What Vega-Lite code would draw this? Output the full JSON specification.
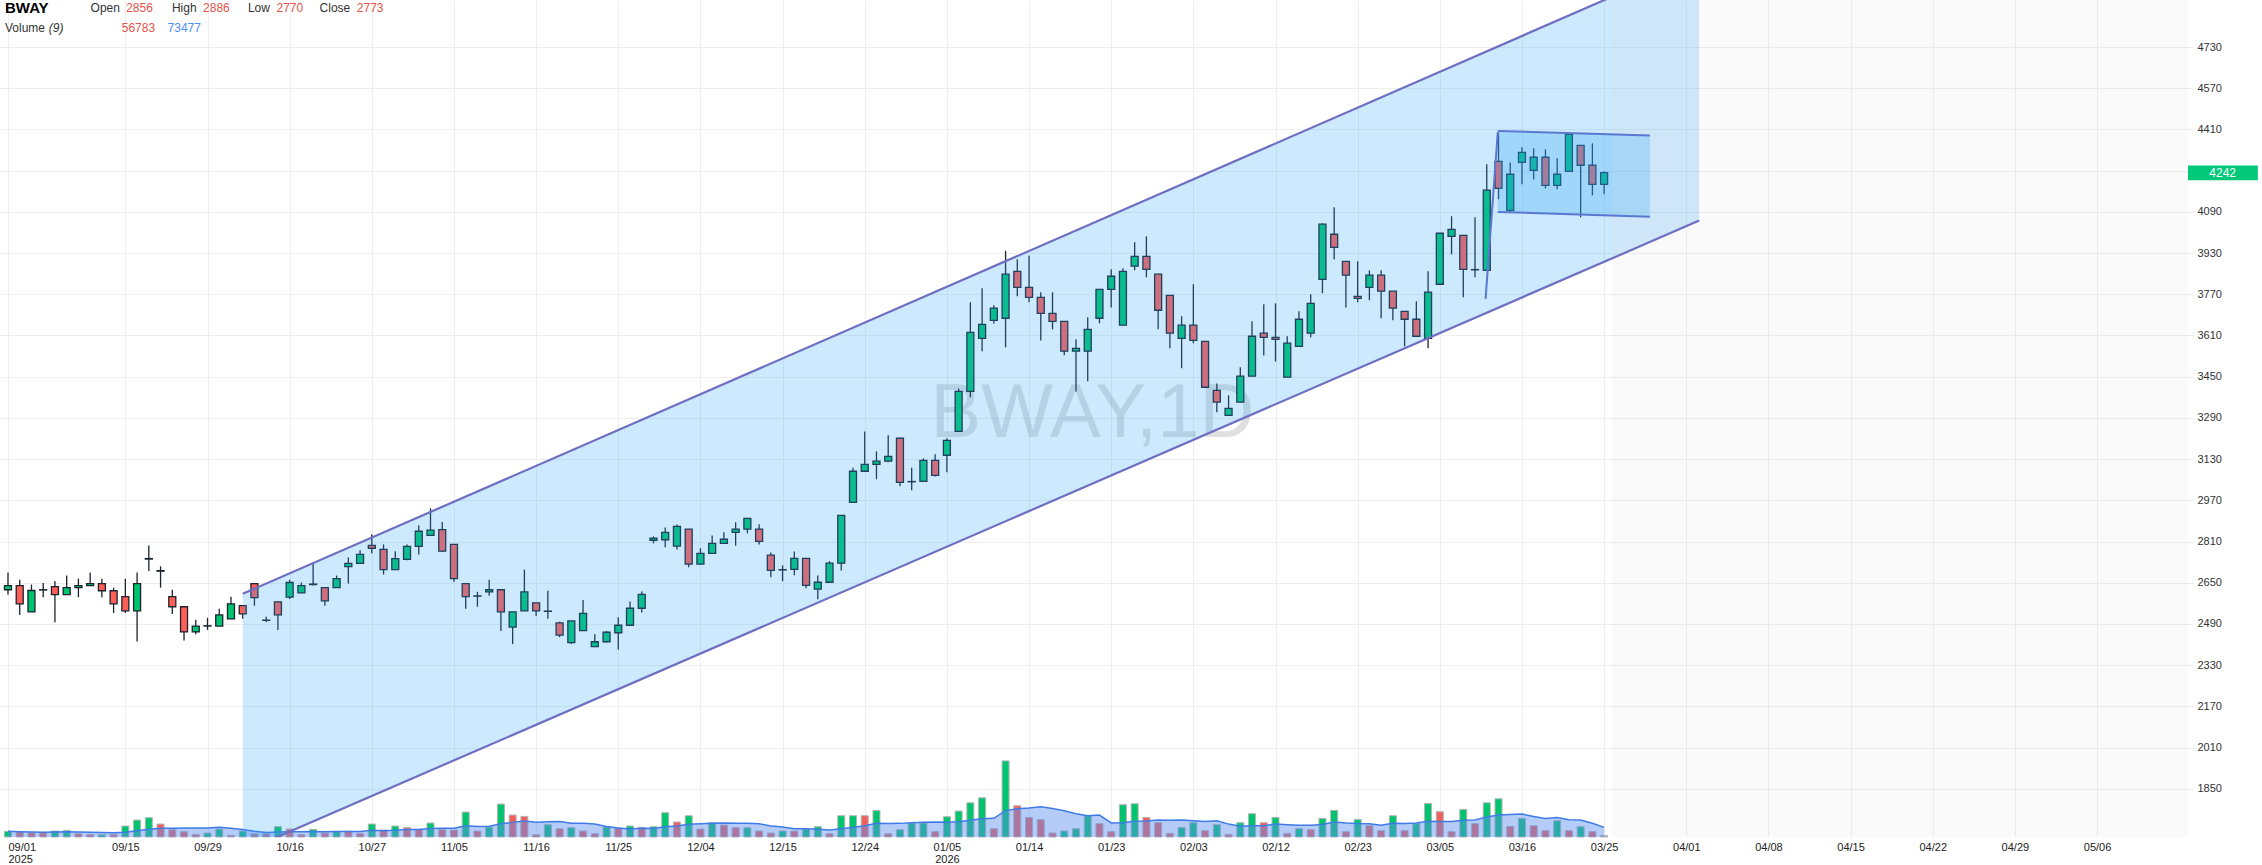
{
"$schema":"https://vega.github.io/schema/vega-lite/v6.json",
"width":2193,"height":837,
"autosize":{"type":"none"},
"padding":{"left":0,"top":0,"right":69,"bottom":28},
"background":"white",
"config":{"view":{"stroke":null}},
"datasets":{
"bars":[
{"i":0,"o":2623,"h":2690,"l":2604,"c":2639,"v":43877,"vd":"u"},
{"i":1,"o":2639,"h":2662,"l":2525,"c":2568,"v":38715,"vd":"d"},
{"i":2,"o":2537,"h":2643,"l":2537,"c":2620,"v":33553,"vd":"d"},
{"i":3,"o":2622,"h":2649,"l":2594,"c":2623,"v":33553,"vd":"d"},
{"i":4,"o":2635,"h":2657,"l":2497,"c":2604,"v":46458,"vd":"u"},
{"i":5,"o":2604,"h":2678,"l":2604,"c":2631,"v":51620,"vd":"u"},
{"i":6,"o":2631,"h":2666,"l":2594,"c":2639,"v":25810,"vd":"d"},
{"i":7,"o":2639,"h":2690,"l":2639,"c":2647,"v":20648,"vd":"d"},
{"i":8,"o":2647,"h":2666,"l":2594,"c":2619,"v":18067,"vd":"u"},
{"i":9,"o":2619,"h":2631,"l":2533,"c":2568,"v":20648,"vd":"d"},
{"i":10,"o":2596,"h":2666,"l":2533,"c":2541,"v":85173,"vd":"u"},
{"i":11,"o":2541,"h":2690,"l":2422,"c":2647,"v":131631,"vd":"u"},
{"i":12,"o":2744,"h":2795,"l":2696,"c":2742,"v":149698,"vd":"u"},
{"i":13,"o":2697,"h":2714,"l":2631,"c":2695,"v":100659,"vd":"d"},
{"i":14,"o":2596,"h":2623,"l":2529,"c":2557,"v":56782,"vd":"d"},
{"i":15,"o":2557,"h":2557,"l":2426,"c":2459,"v":41296,"vd":"d"},
{"i":16,"o":2459,"h":2506,"l":2450,"c":2482,"v":20648,"vd":"d"},
{"i":17,"o":2482,"h":2514,"l":2467,"c":2483,"v":30972,"vd":"u"},
{"i":18,"o":2482,"h":2549,"l":2482,"c":2525,"v":61944,"vd":"u"},
{"i":19,"o":2510,"h":2596,"l":2510,"c":2568,"v":12905,"vd":"d"},
{"i":20,"o":2561,"h":2561,"l":2510,"c":2529,"v":46458,"vd":"u"},
{"i":21,"o":2647,"h":2647,"l":2561,"c":2592,"v":25810,"vd":"d"},
{"i":22,"o":2505,"h":2518,"l":2498,"c":2504,"v":25810,"vd":"d"},
{"i":23,"o":2576,"h":2576,"l":2467,"c":2525,"v":80011,"vd":"u"},
{"i":24,"o":2594,"h":2662,"l":2587,"c":2651,"v":61944,"vd":"d"},
{"i":25,"o":2611,"h":2651,"l":2611,"c":2639,"v":18067,"vd":"d"},
{"i":26,"o":2645,"h":2729,"l":2639,"c":2643,"v":59363,"vd":"u"},
{"i":27,"o":2631,"h":2631,"l":2561,"c":2580,"v":30972,"vd":"d"},
{"i":28,"o":2631,"h":2678,"l":2631,"c":2666,"v":43877,"vd":"u"},
{"i":29,"o":2713,"h":2748,"l":2647,"c":2725,"v":43877,"vd":"d"},
{"i":30,"o":2725,"h":2776,"l":2725,"c":2760,"v":28391,"vd":"d"},
{"i":31,"o":2795,"h":2838,"l":2764,"c":2784,"v":100659,"vd":"u"},
{"i":32,"o":2780,"h":2799,"l":2682,"c":2701,"v":54201,"vd":"d"},
{"i":33,"o":2701,"h":2772,"l":2701,"c":2744,"v":85173,"vd":"u"},
{"i":34,"o":2741,"h":2799,"l":2737,"c":2791,"v":72268,"vd":"d"},
{"i":35,"o":2791,"h":2873,"l":2760,"c":2850,"v":59363,"vd":"d"},
{"i":36,"o":2834,"h":2939,"l":2834,"c":2854,"v":108402,"vd":"u"},
{"i":37,"o":2856,"h":2886,"l":2770,"c":2773,"v":56783,"vd":"d"},
{"i":38,"o":2799,"h":2799,"l":2654,"c":2666,"v":54201,"vd":"d"},
{"i":39,"o":2647,"h":2647,"l":2549,"c":2596,"v":193575,"vd":"u"},
{"i":40,"o":2599,"h":2615,"l":2557,"c":2598,"v":46458,"vd":"d"},
{"i":41,"o":2615,"h":2662,"l":2600,"c":2623,"v":77430,"vd":"u"},
{"i":42,"o":2623,"h":2623,"l":2463,"c":2537,"v":255519,"vd":"u"},
{"i":43,"o":2478,"h":2537,"l":2412,"c":2537,"v":170346,"vd":"d"},
{"i":44,"o":2541,"h":2701,"l":2541,"c":2615,"v":160022,"vd":"d"},
{"i":45,"o":2572,"h":2572,"l":2521,"c":2541,"v":18067,"vd":"d"},
{"i":46,"o":2540,"h":2619,"l":2510,"c":2539,"v":95497,"vd":"u"},
{"i":47,"o":2494,"h":2499,"l":2439,"c":2447,"v":64525,"vd":"d"},
{"i":48,"o":2418,"h":2502,"l":2412,"c":2502,"v":72268,"vd":"u"},
{"i":49,"o":2464,"h":2583,"l":2464,"c":2531,"v":46458,"vd":"d"},
{"i":50,"o":2402,"h":2450,"l":2402,"c":2421,"v":25810,"vd":"d"},
{"i":51,"o":2421,"h":2463,"l":2418,"c":2458,"v":77430,"vd":"u"},
{"i":52,"o":2456,"h":2516,"l":2390,"c":2485,"v":69687,"vd":"d"},
{"i":53,"o":2485,"h":2577,"l":2485,"c":2551,"v":85173,"vd":"u"},
{"i":54,"o":2551,"h":2616,"l":2535,"c":2605,"v":74849,"vd":"d"},
{"i":55,"o":2815,"h":2830,"l":2803,"c":2823,"v":80011,"vd":"u"},
{"i":56,"o":2817,"h":2865,"l":2788,"c":2846,"v":188413,"vd":"u"},
{"i":57,"o":2792,"h":2876,"l":2779,"c":2869,"v":116145,"vd":"d"},
{"i":58,"o":2858,"h":2858,"l":2710,"c":2722,"v":165184,"vd":"u"},
{"i":59,"o":2722,"h":2784,"l":2722,"c":2764,"v":61944,"vd":"d"},
{"i":60,"o":2764,"h":2834,"l":2764,"c":2803,"v":110983,"vd":"u"},
{"i":61,"o":2803,"h":2846,"l":2803,"c":2819,"v":92916,"vd":"d"},
{"i":62,"o":2846,"h":2885,"l":2794,"c":2858,"v":72268,"vd":"d"},
{"i":63,"o":2858,"h":2900,"l":2842,"c":2900,"v":72268,"vd":"u"},
{"i":64,"o":2858,"h":2877,"l":2799,"c":2811,"v":46458,"vd":"d"},
{"i":65,"o":2757,"h":2768,"l":2671,"c":2698,"v":30972,"vd":"d"},
{"i":66,"o":2701,"h":2717,"l":2656,"c":2700,"v":46458,"vd":"u"},
{"i":67,"o":2702,"h":2771,"l":2679,"c":2745,"v":46458,"vd":"d"},
{"i":68,"o":2745,"h":2745,"l":2629,"c":2640,"v":61944,"vd":"u"},
{"i":69,"o":2625,"h":2678,"l":2586,"c":2652,"v":80011,"vd":"u"},
{"i":70,"o":2652,"h":2734,"l":2652,"c":2726,"v":25810,"vd":"d"},
{"i":71,"o":2726,"h":2912,"l":2698,"c":2912,"v":165184,"vd":"u"},
{"i":72,"o":2962,"h":3097,"l":2962,"c":3083,"v":165184,"vd":"u"},
{"i":73,"o":3083,"h":3237,"l":3083,"c":3110,"v":165184,"vd":"d"},
{"i":74,"o":3110,"h":3160,"l":3052,"c":3122,"v":206480,"vd":"u"},
{"i":75,"o":3122,"h":3223,"l":3118,"c":3141,"v":25810,"vd":"d"},
{"i":76,"o":3211,"h":3211,"l":3025,"c":3040,"v":56782,"vd":"u"},
{"i":77,"o":3043,"h":3097,"l":3009,"c":3042,"v":108402,"vd":"u"},
{"i":78,"o":3044,"h":3133,"l":3044,"c":3125,"v":108402,"vd":"u"},
{"i":79,"o":3125,"h":3149,"l":3063,"c":3067,"v":41296,"vd":"d"},
{"i":80,"o":3145,"h":3211,"l":3079,"c":3203,"v":157441,"vd":"u"},
{"i":81,"o":3238,"h":3404,"l":3238,"c":3393,"v":201318,"vd":"u"},
{"i":82,"o":3393,"h":3739,"l":3370,"c":3622,"v":265843,"vd":"u"},
{"i":83,"o":3599,"h":3793,"l":3549,"c":3653,"v":304558,"vd":"u"},
{"i":84,"o":3669,"h":3727,"l":3657,"c":3716,"v":64525,"vd":"d"},
{"i":85,"o":3677,"h":3939,"l":3564,"c":3848,"v":591049,"vd":"u"},
{"i":86,"o":3859,"h":3906,"l":3762,"c":3797,"v":242614,"vd":"d"},
{"i":87,"o":3797,"h":3920,"l":3739,"c":3758,"v":152279,"vd":"d"},
{"i":88,"o":3758,"h":3778,"l":3591,"c":3696,"v":134212,"vd":"d"},
{"i":89,"o":3696,"h":3778,"l":3634,"c":3665,"v":30972,"vd":"d"},
{"i":90,"o":3665,"h":3665,"l":3533,"c":3549,"v":46458,"vd":"u"},
{"i":91,"o":3549,"h":3595,"l":3393,"c":3560,"v":64525,"vd":"u"},
{"i":92,"o":3549,"h":3681,"l":3432,"c":3634,"v":165184,"vd":"u"},
{"i":93,"o":3677,"h":3789,"l":3657,"c":3789,"v":103240,"vd":"d"},
{"i":94,"o":3789,"h":3867,"l":3719,"c":3840,"v":41296,"vd":"d"},
{"i":95,"o":3650,"h":3871,"l":3650,"c":3859,"v":250357,"vd":"u"},
{"i":96,"o":3879,"h":3972,"l":3863,"c":3917,"v":258100,"vd":"u"},
{"i":97,"o":3917,"h":3995,"l":3836,"c":3867,"v":152279,"vd":"d"},
{"i":98,"o":3848,"h":3848,"l":3634,"c":3708,"v":110983,"vd":"d"},
{"i":99,"o":3766,"h":3766,"l":3560,"c":3619,"v":28391,"vd":"d"},
{"i":100,"o":3599,"h":3685,"l":3483,"c":3650,"v":74849,"vd":"u"},
{"i":101,"o":3650,"h":3809,"l":3580,"c":3591,"v":110983,"vd":"u"},
{"i":102,"o":3587,"h":3587,"l":3409,"c":3409,"v":49039,"vd":"d"},
{"i":103,"o":3397,"h":3424,"l":3312,"c":3351,"v":95497,"vd":"u"},
{"i":104,"o":3300,"h":3378,"l":3300,"c":3327,"v":20648,"vd":"d"},
{"i":105,"o":3351,"h":3487,"l":3351,"c":3452,"v":110983,"vd":"u"},
{"i":106,"o":3452,"h":3665,"l":3452,"c":3607,"v":180670,"vd":"u"},
{"i":107,"o":3619,"h":3731,"l":3532,"c":3603,"v":110983,"vd":"d"},
{"i":108,"o":3603,"h":3735,"l":3509,"c":3595,"v":152279,"vd":"u"},
{"i":109,"o":3448,"h":3607,"l":3448,"c":3580,"v":28391,"vd":"d"},
{"i":110,"o":3568,"h":3704,"l":3568,"c":3673,"v":64525,"vd":"u"},
{"i":111,"o":3619,"h":3770,"l":3603,"c":3735,"v":56782,"vd":"d"},
{"i":112,"o":3828,"h":4046,"l":3774,"c":4042,"v":144536,"vd":"u"},
{"i":113,"o":4003,"h":4108,"l":3905,"c":3952,"v":206480,"vd":"u"},
{"i":114,"o":3898,"h":3898,"l":3719,"c":3844,"v":41296,"vd":"d"},
{"i":115,"o":3762,"h":3898,"l":3739,"c":3754,"v":136793,"vd":"u"},
{"i":116,"o":3797,"h":3863,"l":3747,"c":3844,"v":87754,"vd":"d"},
{"i":117,"o":3844,"h":3863,"l":3677,"c":3782,"v":49039,"vd":"d"},
{"i":118,"o":3782,"h":3782,"l":3669,"c":3716,"v":165184,"vd":"u"},
{"i":119,"o":3704,"h":3704,"l":3568,"c":3673,"v":49039,"vd":"d"},
{"i":120,"o":3673,"h":3743,"l":3607,"c":3607,"v":103240,"vd":"u"},
{"i":121,"o":3599,"h":3859,"l":3560,"c":3778,"v":260681,"vd":"u"},
{"i":122,"o":3809,"h":4007,"l":3809,"c":4007,"v":196156,"vd":"d"},
{"i":123,"o":3995,"h":4073,"l":3925,"c":4022,"v":41296,"vd":"d"},
{"i":124,"o":3999,"h":3999,"l":3758,"c":3867,"v":214223,"vd":"u"},
{"i":125,"o":3866,"h":4069,"l":3836,"c":3865,"v":103240,"vd":"d"},
{"i":126,"o":3863,"h":4275,"l":3863,"c":4174,"v":265843,"vd":"u"},
{"i":127,"o":4286,"h":4395,"l":4139,"c":4181,"v":296815,"vd":"u"},
{"i":128,"o":4096,"h":4282,"l":4088,"c":4236,"v":82592,"vd":"d"},
{"i":129,"o":4282,"h":4341,"l":4197,"c":4321,"v":144536,"vd":"u"},
{"i":130,"o":4251,"h":4337,"l":4216,"c":4302,"v":87754,"vd":"d"},
{"i":131,"o":4302,"h":4333,"l":4181,"c":4193,"v":49039,"vd":"d"},
{"i":132,"o":4193,"h":4298,"l":4178,"c":4236,"v":126469,"vd":"u"},
{"i":133,"o":4247,"h":4391,"l":4247,"c":4391,"v":49039,"vd":"d"},
{"i":134,"o":4348,"h":4348,"l":4069,"c":4271,"v":80011,"vd":"u"},
{"i":135,"o":4271,"h":4356,"l":4154,"c":4197,"v":41296,"vd":"d"},
{"i":136,"o":4197,"h":4247,"l":4158,"c":4242,"v":12905,"vd":"n"}
]},
"resolve":{"scale":{"y":"independent"}},
"layer":[
{"data":{"values":[{"t":"BWAY,1D","i":92.4,"p":3305}]},
"mark":{"type":"text","font":"Liberation Sans","fontSize":76,"color":"#9a9a9a","opacity":0.3,"align":"center","baseline":"middle"},
"encoding":{
"x":{"field":"i","type":"quantitative","title":null,"scale":{"domain":[-0.2545,185.75],"nice":false,"zero":false},
"axis":{"values":[0,10,17,24,31,38,45,52,59,66,73,80,87,94,101,108,115,122,129,136,143,150,157,164,171,178],
"labelExpr":"datum.value == 0 ? ['09/01','2025'] : datum.value == 80 ? ['01/05','2026'] : ['09/01','09/15','09/29','10/16','10/27','11/05','11/16','11/25','12/04','12/15','12/24','01/05','01/14','01/23','02/03','02/12','02/23','03/05','03/16','03/25','04/01','04/08','04/15','04/22','04/29','05/06'][indexof([0,10,17,24,31,38,45,52,59,66,73,80,87,94,101,108,115,122,129,136,143,150,157,164,171,178], datum.value)]",
"labelAlign":{"condition":{"test":"datum.value == 0","value":"left"},"value":"center"},
"grid":true,"gridColor":"#eeeeee","gridWidth":1,"domain":false,"ticks":false,
"labelFont":"Liberation Sans","labelFontSize":11,"labelColor":"#222","labelPadding":4,"labelOverlap":false,"labelLineHeight":12,"labelBaseline":"top","title":null}},
"y":{"field":"p","type":"quantitative","scale":{"domain":[1663,4912.5],"nice":false,"zero":false},
"axis":{"orient":"right","values":[1850,2010,2170,2330,2490,2650,2810,2970,3130,3290,3450,3610,3770,3930,4090,4250,4410,4570,4730],
"format":"d","labelExpr":"datum.value == 4250 ? '' : datum.label","grid":true,"gridColor":"#eeeeee","domain":false,"ticks":false,
"labelPadding":4,"labelFont":"Liberation Sans","labelFontSize":11,"labelColor":"#333","title":null}},
"text":{"field":"t"}}},
{"data":{"name":"bars"},
"mark":{"type":"bar","width":7,"stroke":"#b4b4b4","strokeWidth":1},
"encoding":{
"x":{"field":"i","type":"quantitative","title":null,"scale":{"domain":[-0.2545,185.75],"nice":false,"zero":false}},
"y":{"field":"v","type":"quantitative","scale":{"domain":[0,6500000],"nice":false,"zero":false},"axis":null},
"fill":{"field":"vd","type":"nominal","scale":{"domain":["u","d","n"],"range":["#00c46e","#f0605a","#b0b0b0"]},"legend":null}}},
{"data":{"name":"bars"},
"transform":[{"window":[{"op":"mean","field":"v","as":"vma"}],"frame":[-8,0],"sort":[{"field":"i"}]}],
"mark":{"type":"area","fill":"#5b8def","opacity":0.45},
"encoding":{
"x":{"field":"i","type":"quantitative","title":null,"scale":{"domain":[-0.2545,185.75],"nice":false,"zero":false}},
"y":{"field":"vma","type":"quantitative","scale":{"domain":[0,6500000],"nice":false,"zero":false},"axis":null}}},
{"data":{"name":"bars"},
"transform":[{"window":[{"op":"mean","field":"v","as":"vma"}],"frame":[-8,0],"sort":[{"field":"i"}]}],
"mark":{"type":"line","stroke":"#3f7be6","strokeWidth":1.5},
"encoding":{
"x":{"field":"i","type":"quantitative","title":null,"scale":{"domain":[-0.2545,185.75],"nice":false,"zero":false}},
"y":{"field":"vma","type":"quantitative","scale":{"domain":[0,6500000],"nice":false,"zero":false},"axis":null}}},
{"data":{"name":"bars"},
"mark":{"type":"rule","color":"#1b2230","strokeWidth":1.3},
"encoding":{
"x":{"field":"i","type":"quantitative","title":null,"scale":{"domain":[-0.2545,185.75],"nice":false,"zero":false}},
"y":{"field":"l","type":"quantitative","scale":{"domain":[1663,4912.5],"nice":false,"zero":false},"axis":null},
"y2":{"field":"h"}}},
{"data":{"name":"bars"},
"mark":{"type":"bar","width":7,"stroke":"#1b2230","strokeWidth":1.3},
"encoding":{
"x":{"field":"i","type":"quantitative","title":null,"scale":{"domain":[-0.2545,185.75],"nice":false,"zero":false}},
"y":{"field":"o","type":"quantitative","scale":{"domain":[1663,4912.5],"nice":false,"zero":false},"axis":null},
"y2":{"field":"c"},
"fill":{"condition":{"test":"datum.c >= datum.o","value":"#00c46e"},"value":"#ff5f57"}}},
{"data":{"values":[{"i":20,"up":2607,"lo":1605},{"i":144.1,"up":5073,"lo":4056}]},
"mark":{"type":"area","fill":"#2ca4f7","opacity":0.24,"clip":true},
"encoding":{
"x":{"field":"i","type":"quantitative","title":null,"scale":{"domain":[-0.2545,185.75],"nice":false,"zero":false}},
"y":{"field":"up","type":"quantitative","scale":{"domain":[1663,4912.5],"nice":false,"zero":false},"axis":null},
"y2":{"field":"lo"}}},
{"data":{"values":[{"i":126.94,"up":4404,"lo":4089.5},{"i":139.9,"up":4386,"lo":4071}]},
"mark":{"type":"area","fill":"#2ca4f7","opacity":0.27},
"encoding":{
"x":{"field":"i","type":"quantitative","title":null,"scale":{"domain":[-0.2545,185.75],"nice":false,"zero":false}},
"y":{"field":"up","type":"quantitative","scale":{"domain":[1663,4912.5],"nice":false,"zero":false},"axis":null},
"y2":{"field":"lo"}}},
{"data":{"values":[{"a":136.7,"b":185.75,"p1":1663,"p2":4912.5}]},
"mark":{"type":"rect","fill":"#d8d8d8","opacity":0.12},
"encoding":{
"x":{"field":"a","type":"quantitative","title":null,"scale":{"domain":[-0.2545,185.75],"nice":false,"zero":false}},
"x2":{"field":"b"},
"y":{"field":"p1","type":"quantitative","scale":{"domain":[1663,4912.5],"nice":false,"zero":false},"axis":null},
"y2":{"field":"p2"}}},
{"data":{"values":[{"i1":20,"p1":2607,"i2":144.1,"p2":5073},{"i1":20,"p1":1605,"i2":144.1,"p2":4056}]},
"mark":{"type":"rule","color":"#6e6ec2","strokeWidth":2.2,"clip":true},
"encoding":{
"x":{"field":"i1","type":"quantitative","title":null,"scale":{"domain":[-0.2545,185.75],"nice":false,"zero":false}},
"x2":{"field":"i2"},
"y":{"field":"p1","type":"quantitative","scale":{"domain":[1663,4912.5],"nice":false,"zero":false},"axis":null},
"y2":{"field":"p2"}}},
{"data":{"values":[{"i1":126.94,"p1":4404,"i2":139.9,"p2":4386},{"i1":126.94,"p1":4089.5,"i2":139.9,"p2":4071},{"i1":125.9,"p1":3752,"i2":126.94,"p2":4400}]},
"mark":{"type":"rule","color":"#5a78d2","strokeWidth":2},
"encoding":{
"x":{"field":"i1","type":"quantitative","title":null,"scale":{"domain":[-0.2545,185.75],"nice":false,"zero":false}},
"x2":{"field":"i2"},
"y":{"field":"p1","type":"quantitative","scale":{"domain":[1663,4912.5],"nice":false,"zero":false},"axis":null},
"y2":{"field":"p2"}}},
{"data":{"values":[{"t":"BWAY","i":-0.2545,"p":4883}]},
"mark":{"type":"text","font":"Liberation Sans","fontSize":15,"fontWeight":"bold","color":"#000","align":"left","baseline":"middle"},
"encoding":{
"x":{"field":"i","type":"quantitative","title":null,"scale":{"domain":[-0.2545,185.75],"nice":false,"zero":false}},
"y":{"field":"p","type":"quantitative","scale":{"domain":[1663,4912.5],"nice":false,"zero":false},"axis":null},
"text":{"field":"t"}}},
{"data":{"values":[{"t":"Open","i":7.04,"p":4881},{"t":"High","i":13.97,"p":4881},{"t":"Low","i":20.44,"p":4881},{"t":"Close","i":26.55,"p":4881},{"t":"Volume","i":-0.2545,"p":4802}]},
"mark":{"type":"text","font":"Liberation Sans","fontSize":12,"color":"#333","align":"left","baseline":"middle"},
"encoding":{
"x":{"field":"i","type":"quantitative","title":null,"scale":{"domain":[-0.2545,185.75],"nice":false,"zero":false}},
"y":{"field":"p","type":"quantitative","scale":{"domain":[1663,4912.5],"nice":false,"zero":false},"axis":null},
"text":{"field":"t"}}},
{"data":{"values":[{"t":"(9)","i":3.48,"p":4802}]},
"mark":{"type":"text","font":"Liberation Sans","fontSize":12,"fontStyle":"italic","color":"#333","align":"left","baseline":"middle"},
"encoding":{
"x":{"field":"i","type":"quantitative","title":null,"scale":{"domain":[-0.2545,185.75],"nice":false,"zero":false}},
"y":{"field":"p","type":"quantitative","scale":{"domain":[1663,4912.5],"nice":false,"zero":false},"axis":null},
"text":{"field":"t"}}},
{"data":{"values":[{"t":"2856","i":10.07,"p":4883},{"t":"2886","i":16.62,"p":4883},{"t":"2770","i":22.88,"p":4883},{"t":"2773","i":29.72,"p":4883},{"t":"56783","i":9.69,"p":4802}]},
"mark":{"type":"text","font":"Liberation Sans","fontSize":12,"color":"#e5534b","align":"left","baseline":"middle"},
"encoding":{
"x":{"field":"i","type":"quantitative","title":null,"scale":{"domain":[-0.2545,185.75],"nice":false,"zero":false}},
"y":{"field":"p","type":"quantitative","scale":{"domain":[1663,4912.5],"nice":false,"zero":false},"axis":null},
"text":{"field":"t"}}},
{"data":{"values":[{"t":"73477","i":13.6,"p":4802}]},
"mark":{"type":"text","font":"Liberation Sans","fontSize":12,"color":"#4c8df6","align":"left","baseline":"middle"},
"encoding":{
"x":{"field":"i","type":"quantitative","title":null,"scale":{"domain":[-0.2545,185.75],"nice":false,"zero":false}},
"y":{"field":"p","type":"quantitative","scale":{"domain":[1663,4912.5],"nice":false,"zero":false},"axis":null},
"text":{"field":"t"}}},
{"data":{"values":[{"a":185.75,"b":191.7,"p1":4270,"p2":4213}]},
"mark":{"type":"rect","fill":"#00c878"},
"encoding":{
"x":{"field":"a","type":"quantitative","title":null,"scale":{"domain":[-0.2545,185.75],"nice":false,"zero":false}},
"x2":{"field":"b"},
"y":{"field":"p1","type":"quantitative","scale":{"domain":[1663,4912.5],"nice":false,"zero":false},"axis":null},
"y2":{"field":"p2"}}},
{"data":{"values":[{"t":"4242","i":188.7,"p":4242}]},
"mark":{"type":"text","font":"Liberation Sans","fontSize":12,"color":"#ffffff","align":"center","baseline":"middle"},
"encoding":{
"x":{"field":"i","type":"quantitative","title":null,"scale":{"domain":[-0.2545,185.75],"nice":false,"zero":false}},
"y":{"field":"p","type":"quantitative","scale":{"domain":[1663,4912.5],"nice":false,"zero":false},"axis":null},
"text":{"field":"t"}}}
]
}
